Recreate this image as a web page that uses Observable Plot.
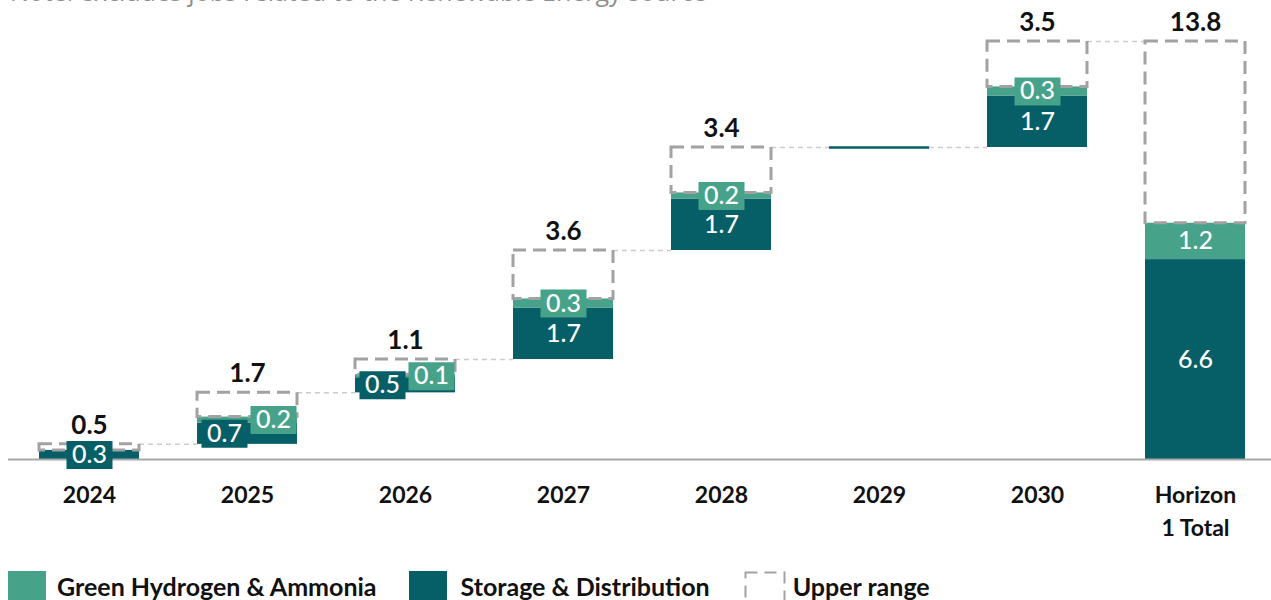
<!DOCTYPE html>
<html>
<head>
<meta charset="utf-8">
<script src="https://cdn.jsdelivr.net/npm/d3@7"></script>
<script src="https://cdn.jsdelivr.net/npm/@observablehq/plot@0.6"></script>
<style>
  html, body { margin: 0; padding: 0; background: #fff; overflow: hidden; }
  body { width: 1271px; height: 600px; position: relative; font-family: Lato, "Open Sans", sans-serif; }
  #note { position: absolute; left: 10px; top: -21px; font-family: "Open Sans", sans-serif; font-size: 25px; line-height: 25px; color: #8f8f8f; white-space: nowrap; }
  #chart { position: absolute; left: 0; top: 0; }
  #legend { position: absolute; left: 8px; top: 571px; display: flex; align-items: flex-start; font-family: Lato, sans-serif; font-weight: 700; font-size: 25px; color: #111; }
  .item { display: flex; align-items: flex-start; }
  .sw { width: 38px; height: 32px; flex: none; }
  .lab { line-height: 30px; white-space: nowrap; }
</style>
</head>
<body>
<div id="note">Note: excludes jobs related to the Renewable Energy source</div>
<div id="chart"></div>
<div id="legend"></div>
<script>
// ---- data ----
const categories = ["2024", "2025", "2026", "2027", "2028", "2029", "2030", "Horizon 1 Total"];
const storage    = [0.3, 0.7, 0.5, 1.7, 1.7, 0, 1.7, 6.6];   // Storage & Distribution
const green      = [0,   0.2, 0.1, 0.3, 0.2, 0, 0.3, 1.2];   // Green Hydrogen & Ammonia
const upper      = [0.5, 1.7, 1.1, 3.6, 3.4, 0, 3.5, 13.8];  // Upper range (increment)
const totalCategory = "Horizon 1 Total";
const seriesNames = ["Green Hydrogen & Ammonia", "Storage & Distribution", "Upper range"];

// ---- styles ----
const DARK = "#065e66";
const GREEN = "#47a28a";
const BOX = "#a2a2a2";

// ---- build waterfall rows ----
let cum = 0;
const rows = categories.map((cat, i) => {
  const isTotal = cat === totalCategory;
  const base = isTotal ? 0 : cum;
  const r = {
    cat, isTotal, base,
    storage: storage[i], green: green[i], upper: upper[i],
    s1: base + storage[i],
    g1: base + storage[i] + green[i],
    top: base + upper[i]
  };
  if (!isTotal) cum += upper[i];
  return r;
});
const connectors = rows.slice(0, -1).map((r, i) => ({from: r.cat, to: rows[i + 1].cat, y: r.top}));

// x band geometry
const xRange = [7.2, 1276.3], pIn = 0.37, pOut = 0.185;
const step = (xRange[1] - xRange[0]) / (categories.length - pIn + 2 * pOut);
const bw = step * (1 - pIn);

// labels
const labels = [];
rows.forEach(r => {
  const side = r.storage > 0 && r.green > 0 && r.storage < 1;
  if (r.storage > 0) labels.push({cat: r.cat, y: (r.base + r.s1) / 2, text: r.storage.toFixed(1), fill: DARK,
    pos: side ? "left" : "center", bg: r.storage < 1});
  if (r.green > 0) labels.push({cat: r.cat, y: (r.s1 + r.g1) / 2, text: r.green.toFixed(1), fill: GREEN,
    pos: side ? "right" : "center", bg: r.green < 1});
});
const offsets = {left: -23, center: 0, right: 26};
const boxSymbol = {draw(ctx) { ctx.rect(-23, -14, 46, 28); }};
const labelMarks = [];
for (const pos of ["center", "left", "right"]) {
  const d = labels.filter(l => l.pos === pos);
  labelMarks.push(Plot.dot(d.filter(l => l.bg), {x: "cat", y: "y", dx: offsets[pos], symbol: boxSymbol, fill: "fill", stroke: null}));
  labelMarks.push(Plot.text(d, {x: "cat", y: "y", dx: offsets[pos], text: "text", fill: "white", fontSize: 25, fontWeight: 500}));
}

const chart = Plot.plot({
  width: 1271,
  height: 540,
  marginTop: 41,
  marginBottom: 81,
  marginLeft: 8,
  marginRight: 0,
  style: {fontFamily: "Lato, sans-serif", color: "#000", background: "transparent", overflow: "visible"},
  x: {domain: categories, range: xRange, paddingInner: pIn, paddingOuter: pOut, axis: null},
  y: {domain: [0, 13.8], axis: null},
  color: {type: "identity"},
  marks: [
    Plot.ruleY(connectors, {x1: "from", x2: "to", y: "y", insetLeft: bw, insetRight: bw, stroke: "#cccccc", strokeWidth: 1.5, strokeDasharray: "5,4"}),
    Plot.rectY(rows, {x: "cat", y1: "base", y2: "s1", fill: DARK}),
    Plot.rectY(rows, {x: "cat", y1: "s1", y2: "g1", fill: GREEN}),
    Plot.ruleY([0], {stroke: "#a8a8aa", strokeWidth: 2}),
    Plot.rectY(rows.filter(r => r.upper > 0), {x: "cat", y1: "g1", y2: "top", fill: "none", stroke: BOX, strokeWidth: 3, strokeDasharray: "13,7"}),
    Plot.ruleY(rows.filter(r => r.upper === 0), {x1: "cat", x2: "cat", y: "top", stroke: DARK, strokeWidth: 2.5}),
    ...labelMarks,
    Plot.text(rows.filter(r => r.upper > 0), {x: "cat", y: "top", dy: -19, text: r => r.upper.toFixed(1), fill: "#111", fontSize: 26, fontWeight: 700}),
    Plot.axisX({tickSize: 0, tickPadding: 21, fontSize: 23, fontWeight: 700, fill: "#111", lineHeight: 1.4,
      tickFormat: d => d === totalCategory ? "Horizon\n1 Total" : d})
  ]
});
document.getElementById("chart").appendChild(chart);

// ---- legend ----
const legend = d3.select("#legend");
const legendItems = [
  {name: seriesNames[0], type: "fill", color: GREEN, gapAfter: 32, gapText: 11},
  {name: seriesNames[1], type: "fill", color: DARK, gapAfter: 34, gapText: 14},
  {name: seriesNames[2], type: "dash", color: BOX, gapAfter: 0, gapText: 7}
];
legendItems.forEach(it => {
  const item = legend.append("div").attr("class", "item").style("margin-right", it.gapAfter + "px");
  const sw = item.append("svg").attr("class", "sw").attr("width", 42).attr("height", 32);
  if (it.type === "fill") {
    sw.attr("width", 38).append("rect").attr("width", 38).attr("height", 32).attr("fill", it.color);
  } else {
    sw.append("rect").attr("x", 1.5).attr("y", 1.5).attr("width", 39).attr("height", 40)
      .attr("fill", "none").attr("stroke", it.color).attr("stroke-width", 2).attr("stroke-dasharray", "12,7");
    sw.style("width", "42px");
  }
  item.append("div").attr("class", "lab").style("margin-left", it.gapText + "px").text(it.name);
});
</script>
</body>
</html>
